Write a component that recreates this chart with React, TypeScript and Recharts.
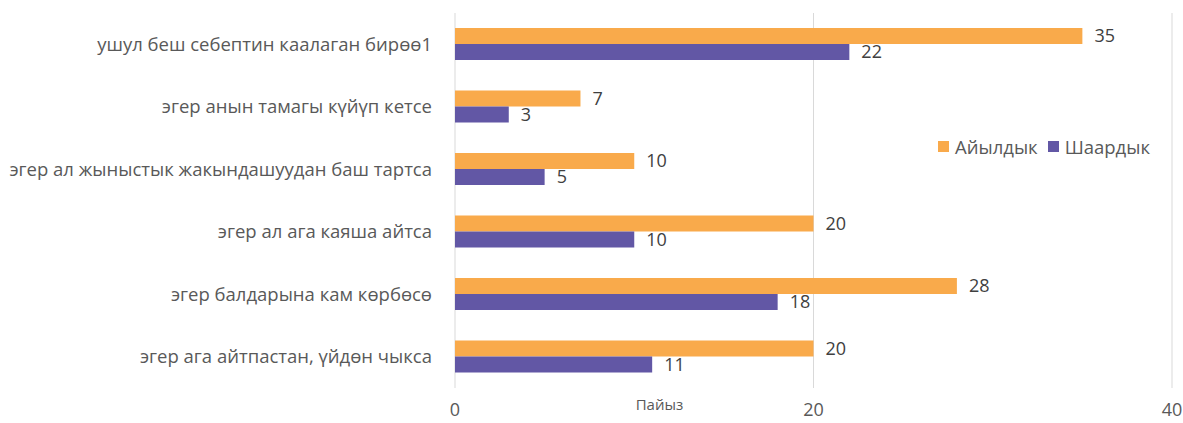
import React from 'react';
import { BarChart, Bar, XAxis, YAxis, CartesianGrid, Legend, LabelList } from 'recharts';

const categories = [
  'ушул беш себептин каалаган бирөө1',
  'эгер анын тамагы күйүп кетсе',
  'эгер ал жыныстык жакындашуудан баш тартса',
  'эгер ал ага каяша айтса',
  'эгер балдарына кам көрбөсө',
  'эгер ага айтпастан, үйдөн чыкса',
];
const rural = [35, 7, 10, 20, 28, 20];
const urban = [22, 3, 5, 10, 18, 11];
const xTicks = [0, 20, 40];

const ORANGE = '#F9AA4B';
const PURPLE = '#6257A5';
const TEXT = '#595959';
const FONT = 'Open Sans, sans-serif';

const data = categories.map((name, i) => ({ name, rural: rural[i], urban: urban[i] }));

const legendItems = [
  { label: 'Айылдык', color: ORANGE },
  { label: 'Шаардык', color: PURPLE },
];

const LegendBox = () => (
  <div style={{ display: 'flex', alignItems: 'center', fontFamily: FONT, fontSize: 18.5, color: TEXT, whiteSpace: 'nowrap' }}>
    {legendItems.map((it) => (
      <div key={it.label} style={{ display: 'flex', alignItems: 'center', marginRight: 10 }}>
        <span style={{ width: 11, height: 11, background: it.color, display: 'inline-block', marginRight: 6 }} />
        <span>{it.label}</span>
      </div>
    ))}
  </div>
);

export default function App() {
  return (
    <div style={{ position: 'absolute', left: 0, top: 0, background: '#fff' }}>
      <BarChart
        width={1183}
        height={423}
        data={data}
        layout="vertical"
        margin={{ top: 13, right: 11, bottom: 0, left: 0 }}
        barSize={16}
        barGap={0}
      >
        <CartesianGrid horizontal={false} stroke="#d9d9d9" />
        <XAxis
          type="number"
          domain={[0, 40]}
          ticks={xTicks}
          axisLine={false}
          tickLine={false}
          tickSize={0}
          tickMargin={15}
          height={35}
          interval={0}
          tick={{ fill: TEXT, fontSize: 18, fontFamily: FONT }}
          label={{ value: 'Пайыз', position: 'insideTop', dx: -154, dy: 6, fill: TEXT, fontSize: 15, fontFamily: FONT }}
        />
        <YAxis
          type="category"
          dataKey="name"
          width={455}
          axisLine={false}
          tickLine={false}
          tickSize={0}
          tickMargin={23}
          interval={0}
          tick={{ fill: TEXT, fontSize: 18.5, fontFamily: FONT }}
        />
        <Legend
          layout="horizontal"
          verticalAlign="middle"
          align="center"
          content={<LegendBox />}
          wrapperStyle={{ position: 'absolute', left: 938, top: 134, width: 'auto' }}
        />
        <Bar dataKey="rural" name="Айылдык" fill={ORANGE} isAnimationActive={false}>
          <LabelList dataKey="rural" position="right" offset={12} fill="#404040" fontSize={18} fontFamily={FONT} />
        </Bar>
        <Bar dataKey="urban" name="Шаардык" fill={PURPLE} isAnimationActive={false}>
          <LabelList dataKey="urban" position="right" offset={12} fill="#404040" fontSize={18} fontFamily={FONT} />
        </Bar>
      </BarChart>
    </div>
  );
}
